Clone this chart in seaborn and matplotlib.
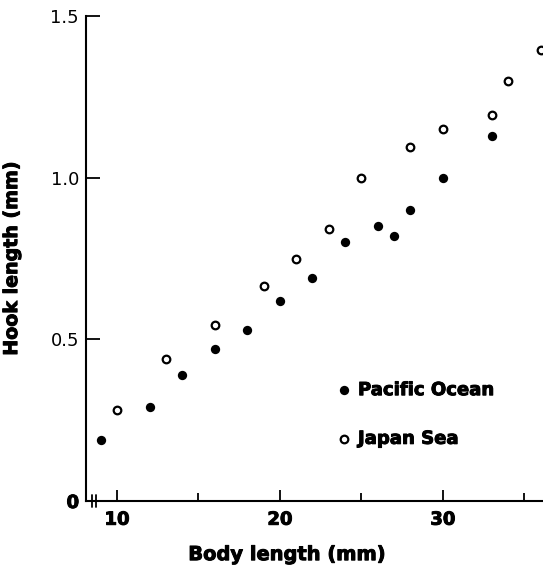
import matplotlib
matplotlib.use('Agg')
import pandas
import seaborn
import matplotlib.pyplot as plt
import matplotlib.patheffects as pe
from matplotlib.ticker import MultipleLocator

# values
pacific_body = [9, 12, 14, 16, 18, 20, 22, 24, 26, 27, 28, 30, 33]
pacific_hook = [0.19, 0.29, 0.39, 0.47, 0.53, 0.62, 0.69, 0.80, 0.85, 0.82, 0.90, 1.00, 1.13]

japan_body = [10, 13, 16, 19, 21, 23, 25, 28, 30, 33, 34, 36]
japan_hook = [0.28, 0.44, 0.545, 0.665, 0.75, 0.84, 1.00, 1.095, 1.15, 1.195, 1.30, 1.395]

pacific = pandas.DataFrame({'body': pacific_body, 'hook': pacific_hook})
japan = pandas.DataFrame({'body': japan_body, 'hook': japan_hook})

seaborn.set_style('ticks')
plt.rcParams['font.family'] = ['DejaVu Sans']
for key in ['text.color', 'axes.labelcolor', 'xtick.color', 'ytick.color', 'axes.edgecolor']:
    plt.rcParams[key] = 'black'

heavy = [pe.withStroke(linewidth=0.7, foreground='black')]

fig = plt.figure(figsize=(5.43, 5.72), dpi=100)
ax = fig.add_axes([86 / 543, 71 / 572, 457 / 543, 485 / 572])

seaborn.scatterplot(x='body', y='hook', data=pacific, ax=ax, marker='o', s=45,
                    color='black', edgecolor='black', linewidth=0, label='Pacific Ocean',
                    clip_on=False, zorder=3)
seaborn.scatterplot(x='body', y='hook', data=japan, ax=ax, marker='o', s=30,
                    facecolor='white', edgecolor='black', linewidth=1.6, label='Japan Sea',
                    clip_on=False, zorder=3)

ax.set_xlim(8.1, 36.15)
ax.set_ylim(0, 1.5)
ax.xaxis.set_major_locator(MultipleLocator(10))
ax.xaxis.set_minor_locator(MultipleLocator(5))
ax.set_yticks([0, 0.5, 1.0, 1.5])
ax.set_yticklabels(['0', '0.5', '1.0', '1.5'])
ax.tick_params(axis='x', which='major', direction='in', length=8, width=1.3, pad=7,
               labelsize=13)
ax.tick_params(axis='x', which='minor', direction='in', length=6, width=1.3)
ax.tick_params(axis='y', direction='in', length=10, width=1.3, pad=5, labelsize=13)
for lab in ax.get_xticklabels():
    lab.set_fontweight('bold')
    lab.set_path_effects(heavy)
ax.get_yticklabels()[0].set_fontweight('bold')
ax.get_yticklabels()[0].set_path_effects(heavy)

for side in ['top', 'right']:
    ax.spines[side].set_visible(False)
for side in ['left', 'bottom']:
    ax.spines[side].set_linewidth(1.5)

# axis break marks near the origin
for xb in [0.013, 0.022]:
    ax.plot([xb, xb], [-0.012, 0.012], transform=ax.transAxes, color='black',
            lw=1.3, clip_on=False)

ax.set_xlabel('Body length (mm)', fontsize=14, fontweight='bold', path_effects=heavy)
ax.xaxis.set_label_coords(0.44, -0.091)
ax.set_ylabel('Hook length (mm)', fontsize=13.7, fontweight='bold', path_effects=heavy)
ax.yaxis.set_label_coords(-0.142, 0.5)

leg = ax.legend(loc='upper left', bbox_to_anchor=(0.53, 0.262), frameon=False,
                fontsize=13, handletextpad=0.25, handlelength=1.0, labelspacing=1.7,
                borderaxespad=0)
for t in leg.get_texts():
    t.set_fontweight('bold')
    t.set_path_effects(heavy)

fig.savefig('out.png', dpi=100)
